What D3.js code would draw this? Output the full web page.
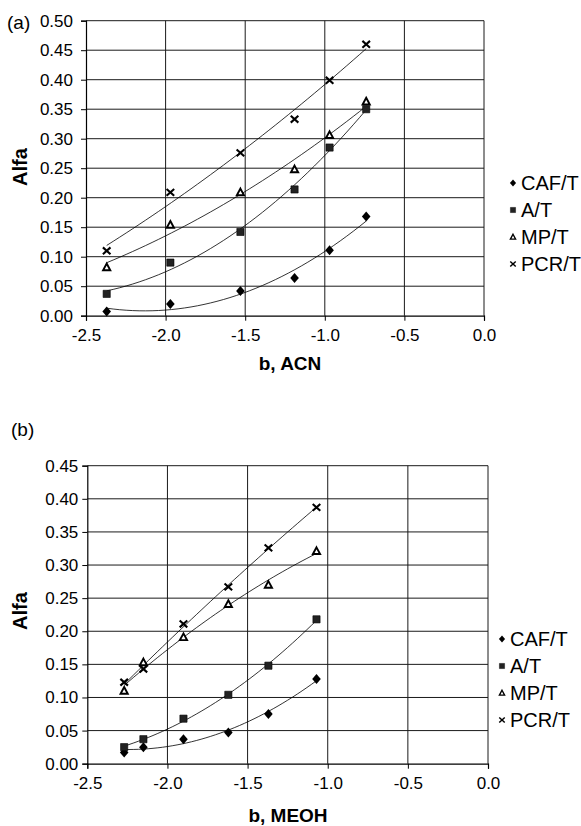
<!DOCTYPE html>
<html>
<head>
<meta charset="utf-8">
<script src="https://cdn.jsdelivr.net/npm/d3@7"></script>
<style>
  body { margin: 0; background: #fff; }
  svg { display: block; font-family: "Liberation Sans", Arial, sans-serif; }
</style>
</head>
<body>
<div id="chart"></div>
<script>
// series names and shared ticks
const seriesNames = ['CAF/T', 'A/T', 'MP/T', 'PCR/T'];
const xTicks = [-2.5, -2.0, -1.5, -1.0, -0.5, 0.0];

// (a) acetonitrile
const bACN = [-2.37, -1.97, -1.53, -1.19, -0.97, -0.74];
const cafACN = [0.007, 0.020, 0.042, 0.064, 0.111, 0.168];
const aACN = [0.037, 0.090, 0.142, 0.214, 0.285, 0.350];
const mpACN = [0.082, 0.154, 0.209, 0.248, 0.306, 0.363];
const pcrACN = [0.110, 0.209, 0.276, 0.333, 0.399, 0.460];
const yTicksACN = [0, 0.05, 0.10, 0.15, 0.20, 0.25, 0.30, 0.35, 0.40, 0.45, 0.50];

// (b) methanol
const bMEOH = [-2.27, -2.15, -1.90, -1.62, -1.37, -1.07];
const cafMEOH = [0.017, 0.025, 0.037, 0.047, 0.075, 0.128];
const aMEOH = [0.025, 0.037, 0.068, 0.104, 0.148, 0.218];
const mpMEOH = [0.110, 0.153, 0.191, 0.241, 0.270, 0.321];
const pcrMEOH = [0.123, 0.143, 0.211, 0.267, 0.326, 0.387];
const yTicksMEOH = [0, 0.05, 0.10, 0.15, 0.20, 0.25, 0.30, 0.35, 0.40, 0.45];

const svg = d3.select('#chart').append('svg')
  .attr('width', 581).attr('height', 826);

// marker shapes
const markers = {
  'CAF/T': { d: 'M0,-5L4.3,0L0,5L-4.3,0Z', fill: '#000', stroke: 'none', w: 0 },
  'A/T': { d: 'M-3.6,-3.6H3.6V3.6H-3.6Z', fill: '#222', stroke: '#000', w: 0.6 },
  'MP/T': { d: 'M0,-3.8L3.6,2.9H-3.6Z', fill: '#fff', stroke: '#000', w: 1.9 },
  'PCR/T': { d: 'M-3.8,-3.4L3.8,3.4M-3.8,3.4L3.8,-3.4', fill: 'none', stroke: '#000', w: 2.1 },
};

// least squares quadratic, for excel-like trendlines
function quadFit(xs, ys) {
  const n = xs.length;
  let s = [0, 0, 0, 0, 0], t = [0, 0, 0];
  for (let i = 0; i < n; i++) {
    for (let k = 0; k < 5; k++) s[k] += Math.pow(xs[i], k);
    for (let k = 0; k < 3; k++) t[k] += ys[i] * Math.pow(xs[i], k);
  }
  const m = [[s[0], s[1], s[2], t[0]], [s[1], s[2], s[3], t[1]], [s[2], s[3], s[4], t[2]]];
  for (let i = 0; i < 3; i++) {
    for (let j = i + 1; j < 3; j++) {
      const f = m[j][i] / m[i][i];
      for (let k = i; k < 4; k++) m[j][k] -= f * m[i][k];
    }
  }
  const c = [0, 0, 0];
  for (let i = 2; i >= 0; i--) {
    let v = m[i][3];
    for (let k = i + 1; k < 3; k++) v -= m[i][k] * c[k];
    c[i] = v / m[i][i];
  }
  return (x) => c[0] + c[1] * x + c[2] * x * x;
}

function drawPanel(cfg) {
  const g = svg.append('g');
  const x = d3.scaleLinear().domain([-2.5, 0]).range([cfg.left, cfg.right]);
  const y = d3.scaleLinear().domain([0, cfg.yMax]).range([cfg.bottom, cfg.top]);

  // grid
  g.append('g').selectAll('line').data(cfg.yTicks.slice(1)).join('line')
    .attr('x1', cfg.left).attr('x2', cfg.right)
    .attr('y1', (d) => y(d)).attr('y2', (d) => y(d))
    .attr('stroke', '#1a1a1a').attr('stroke-width', 1);
  g.append('g').selectAll('line').data(xTicks.slice(1)).join('line')
    .attr('x1', (d) => x(d)).attr('x2', (d) => x(d))
    .attr('y1', cfg.top).attr('y2', cfg.bottom)
    .attr('stroke', '#1a1a1a').attr('stroke-width', 1);

  // axes
  const ax = g.append('g')
    .attr('transform', `translate(0,${cfg.bottom})`)
    .call(d3.axisBottom(x).tickValues(xTicks).tickSize(5).tickPadding(8)
      .tickFormat((d) => d.toFixed(1)));
  const ay = g.append('g')
    .attr('transform', `translate(${cfg.left},0)`)
    .call(d3.axisLeft(y).tickValues(cfg.yTicks).tickSize(5).tickPadding(cfg.yPad)
      .tickFormat((d) => d.toFixed(2)));
  [ax, ay].forEach((a) => {
    a.select('.domain').attr('stroke', '#000').attr('stroke-width', 1.2);
    a.selectAll('.tick line').attr('stroke', '#000');
    a.selectAll('text').attr('font-size', 17).attr('fill', '#000')
      .attr('font-family', '"Liberation Sans", Arial, sans-serif');
  });

  // trendlines and points
  cfg.series.forEach((vals) => {
    const f = quadFit(cfg.xs, vals);
    const x0 = d3.min(cfg.xs), x1 = d3.max(cfg.xs);
    const pts = d3.range(0, 41).map((k) => x0 + (x1 - x0) * k / 40);
    g.append('path')
      .attr('d', d3.line().x((d) => x(d)).y((d) => y(f(d)))(pts))
      .attr('fill', 'none').attr('stroke', '#000').attr('stroke-width', 0.8);
  });
  cfg.series.forEach((vals, i) => {
    const m = markers[seriesNames[i]];
    g.append('g').selectAll('path').data(vals).join('path')
      .attr('transform', (d, j) => `translate(${x(cfg.xs[j])},${y(d)})`)
      .attr('d', m.d).attr('fill', m.fill)
      .attr('stroke', m.stroke).attr('stroke-width', m.w);
  });

  // labels
  g.append('text').attr('x', cfg.tagX).attr('y', cfg.tagY)
    .attr('font-size', 19).text(cfg.tag);
  g.append('text')
    .attr('transform', `translate(27,${cfg.alfaY}) rotate(-90)`)
    .attr('text-anchor', 'middle').attr('font-size', 20).attr('font-weight', 'bold')
    .text('Alfa');
  g.append('text').attr('x', cfg.titleX).attr('y', cfg.titleY)
    .attr('text-anchor', 'middle').attr('font-size', 19).attr('font-weight', 'bold')
    .text(cfg.title);

  // legend
  const lg = g.append('g');
  seriesNames.forEach((name, i) => {
    const m = markers[name];
    const ly = cfg.legY + i * cfg.legStep;
    lg.append('path')
      .attr('transform', `translate(${cfg.legX},${ly}) scale(0.72)`)
      .attr('d', m.d).attr('fill', m.fill)
      .attr('stroke', m.stroke).attr('stroke-width', m.w);
    lg.append('text').attr('x', cfg.legX + 8).attr('y', ly + 7)
      .attr('font-size', 20).text(name);
  });
}

drawPanel({
  left: 86, right: 484, top: 20.7, bottom: 315.7, yMax: 0.5,
  yTicks: yTicksACN, yPad: 8, xs: bACN,
  series: [cafACN, aACN, mpACN, pcrACN],
  tag: '(a)', tagX: 7, tagY: 29, alfaY: 167,
  title: 'b, ACN', titleX: 290, titleY: 370,
  legX: 513, legY: 183, legStep: 27,
});

drawPanel({
  left: 87.3, right: 488, top: 465.7, bottom: 763.7, yMax: 0.45,
  yTicks: yTicksMEOH, yPad: 4, xs: bMEOH,
  series: [cafMEOH, aMEOH, mpMEOH, pcrMEOH],
  tag: '(b)', tagX: 11, tagY: 436, alfaY: 611,
  title: 'b, MEOH', titleX: 288, titleY: 822,
  legX: 502, legY: 639, legStep: 27,
});
</script>
</body>
</html>
